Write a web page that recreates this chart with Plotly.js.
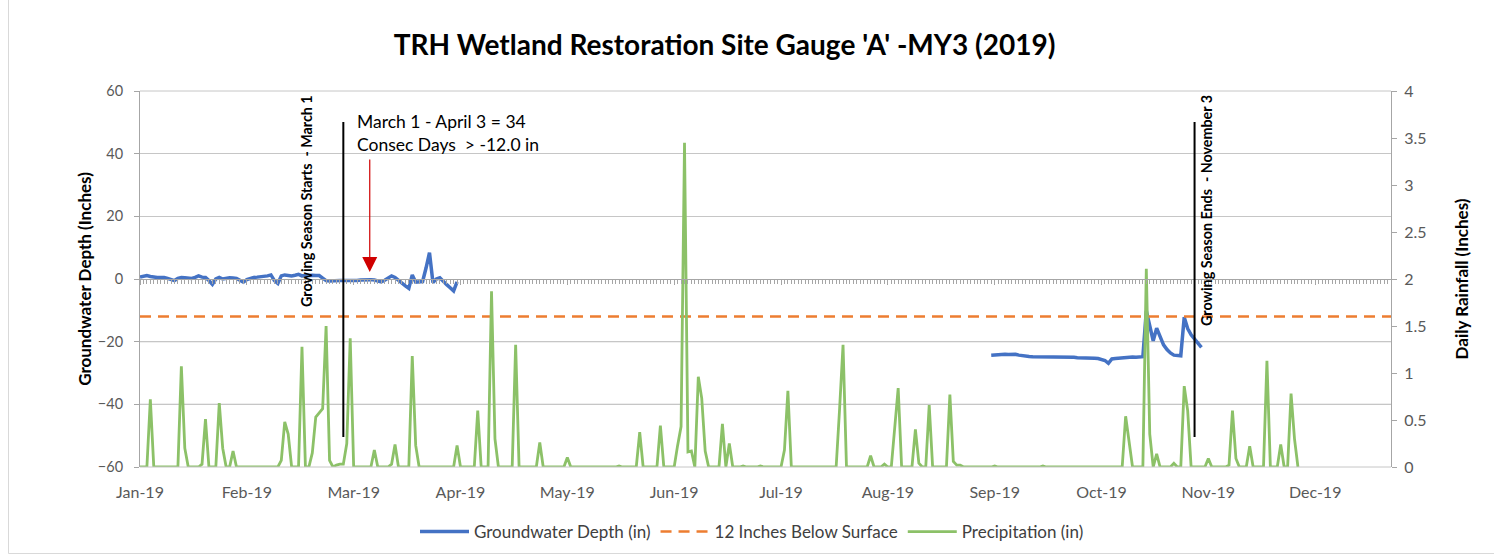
<!DOCTYPE html>
<html><head><meta charset="utf-8">
<script src="https://cdn.plot.ly/plotly-3.0.1.min.js"></script>
<style>html,body{margin:0;padding:0;background:#fff}#chart{width:1494px;height:556px}</style>
</head><body><div id="chart"></div>
<script>
// ---- data ----
const startDate = '2019-01-01';
const axisEndDate = '2019-12-30';
const tickStepDays = 31;
const seriesNames = ['Groundwater Depth (in)', '12 Inches Below Surface', 'Precipitation (in)'];

// daily precipitation (in), starting 2019-01-01
const precipitation = [
  0,0,0,0.72,0,0,0,0,0,0,
  0,0,1.07,0.2,0,0,0,0,0.03,0.51,
  0,0,0,0.68,0.2,0,0,0.17,0,0,
  0,0,0,0,0,0,0,0,0,0,
  0,0.07,0.48,0.35,0,0,0,1.28,0,0,
  0.15,0.53,0.57,0.62,1.5,0.07,0,0.02,0.03,0.03,
  0.25,1.37,0,0,0,0,0,0,0.18,0,
  0,0,0,0.03,0.24,0,0,0,0,1.18,
  0.23,0,0,0,0,0,0,0,0,0,
  0,0,0.23,0,0,0,0,0,0.6,0,
  0,0,1.87,0.3,0,0,0,0,0,1.3,
  0,0,0,0,0,0,0.26,0,0,0,
  0,0,0,0,0.1,0,0,0,0,0,
  0,0,0,0,0,0,0,0,0,0.01,
  0,0,0,0,0,0.37,0,0,0,0,
  0,0.44,0,0,0,0,0.23,0.43,3.45,0.16,
  0.17,0,0.96,0.73,0.17,0,0,0,0,0.46,
  0,0.25,0,0,0,0.01,0,0,0,0,
  0.01,0,0,0,0,0,0,0.18,0.81,0,
  0,0,0,0,0,0,0,0,0,0,
  0,0,0,0.62,1.3,0,0,0,0,0,
  0,0,0.12,0,0,0,0.03,0,0,0.42,
  0.84,0,0,0,0,0.4,0.04,0,0,0.66,
  0,0,0,0,0,0.77,0.06,0.02,0.02,0,
  0,0,0,0,0,0,0,0,0.01,0,
  0,0,0,0,0,0,0,0,0,0,
  0,0,0.01,0,0,0,0,0,0,0,
  0,0,0,0,0,0,0,0,0,0,
  0,0,0,0,0,0,0.54,0.25,0,0,
  0,0,2.11,0.35,0,0.14,0,0,0,0,
  0.04,0,0,0.86,0.6,0,0,0,0,0,
  0.09,0,0,0,0,0,0.02,0.6,0.09,0,
  0,0,0.22,0,0,0,0,1.13,0,0,
  0,0.24,0,0,0.78,0.3,0
];

// groundwater depth (in), spring record starting 2019-01-01
const gwSpringStart = '2019-01-01';
const gwSpring = [
  0.6,1.0,1.1,0.8,0.6,0.5,0.5,0.5,0.2,-0.2,
  -0.5,0.2,0.5,0.4,0.2,0.2,0.5,1.0,0.6,0.5,
  -0.5,-1.7,0.0,0.5,0.0,0.3,0.4,0.3,0.2,-0.4,
  -1.0,-0.2,0.2,0.5,0.6,0.7,0.8,1.0,1.3,-0.5,
  -1.4,1.0,1.3,1.1,1.0,1.2,1.5,1.0,1.1,1.3,
  1.2,1.1,1.1,0.3,-0.5,-0.6,-0.5,-0.5,-0.5,-0.5,
  -0.5,-0.6,-0.6,-0.5,-0.3,-0.2,-0.1,-0.2,-0.3,-0.6,
  -0.9,-0.4,0.2,1.0,0.5,-0.5,-1.4,-2.2,-3.0,1.3,
  -1.0,-0.9,-0.8,3.5,8.4,-1.1,0.0,0.4,-0.9,-1.8,
  -2.8,-3.8,-0.9
];
// groundwater depth (in), fall record starting 2019-09-05
const gwFallStart = '2019-09-05';
const gwFall = [
  -24.3,-24.2,-24.1,-24.1,-24.0,-24.1,-24.0,-24.0,-24.3,-24.5,
  -24.6,-24.7,-24.8,-24.8,-24.8,-24.8,-24.9,-24.8,-24.8,-24.9,
  -24.9,-25.0,-25.0,-24.9,-25.0,-25.1,-25.1,-25.1,-25.2,-25.3,
  -25.3,-25.4,-25.6,-26.0,-26.9,-25.5,-25.4,-25.3,-25.3,-25.0,
  -25.1,-24.9,-25.0,-24.8,-24.8,-10.2,-15.5,-19.7,-15.7,-18.5,
  -21.0,-22.5,-23.6,-24.3,-24.5,-24.5,-12.2,-15.8,-17.8,-19.2,
  -20.6,-21.8
];
const thresholdDepth = -12;

// annotation texts
const seasonStartDate = '2019-03-01';
const seasonEndDate = '2019-11-03';
const seasonStartLabel = 'Growing Season Starts  - March 1';
const seasonEndLabel = 'Growing Season Ends  - November 3';
const calloutLines = ['March 1 - April 3 = 34', 'Consec Days  > -12.0 in'];
const calloutArrowDate = '2019-03-08 16:00';

// ---- helpers ----
const DAY = 86400000;
function datesFrom(start, n) {
  const t0 = Date.parse(start + 'T00:00:00Z');
  const out = [];
  for (let i = 0; i < n; i++) out.push(new Date(t0 + i * DAY).toISOString().slice(0, 10));
  return out;
}
const precipDates = datesFrom(startDate, precipitation.length);
const gwDates = datesFrom(gwSpringStart, gwSpring.length).concat([null], datesFrom(gwFallStart, gwFall.length));
const gwValues = gwSpring.concat([null], gwFall);

const FONT = 'Lato, "Open Sans", "DejaVu Sans", sans-serif';
const GRID = '#C6C6C6';
const GRID_DARK = '#9A9A9A';
const AXIS = '#A6A6A6';
const xRange = [startDate, axisEndDate];

const traces = [
  {x: gwDates, y: gwValues, name: seriesNames[0], type: 'scatter', mode: 'lines',
   connectgaps: false, line: {color: '#4472C4', width: 3.5}, xaxis: 'x', yaxis: 'y', hoverinfo: 'skip'},
  {x: xRange, y: [thresholdDepth, thresholdDepth], name: seriesNames[1], type: 'scatter', mode: 'lines',
   line: {color: '#ED7D31', width: 2.5, dash: '11px,7px'}, xaxis: 'x', yaxis: 'y', hoverinfo: 'skip'},
  {x: precipDates, y: precipitation, name: seriesNames[2], type: 'scatter', mode: 'lines',
   line: {color: '#8CC168', width: 2.8}, xaxis: 'x2', yaxis: 'y2', hoverinfo: 'skip'}
];

const tickFont = {family: FONT, size: 16, color: '#595959'};

// paper-coordinate helpers for the chart-area frame (plot area: x 140..1391, y 91..467 px)
const pxX = px => (px - 140) / 1251;
const pxY = py => (467 - py) / 376;

const layout = {
  width: 1494, height: 556,
  margin: {l: 140, r: 103, t: 91, b: 89},
  paper_bgcolor: '#fff', plot_bgcolor: 'rgba(0,0,0,0)',
  font: {family: FONT},
  title: {text: "TRH Wetland Restoration Site Gauge 'A' -MY3 (2019)", xref: 'container', x: 0.485, xanchor: 'center',
          yref: 'container', y: 1 - 45/556, yanchor: 'middle',
          font: {family: FONT, size: 28, weight: 700, color: '#000'}},
  showlegend: true,
  legend: {orientation: 'h', xref: 'container', x: 752/1494, xanchor: 'center',
           yref: 'container', y: 1 - 532/556, yanchor: 'middle', itemwidth: 49,
           font: {family: FONT, size: 17, color: '#404040'}, bgcolor: 'rgba(0,0,0,0)'},
  xaxis: {type: 'date', range: xRange, tick0: startDate, dtick: tickStepDays * DAY, tickformat: '%b-%y',
          ticks: '', showline: false, showgrid: false, zeroline: false, tickfont: tickFont,
          ticklabelstandoff: 14, automargin: false},
  xaxis2: {type: 'date', range: xRange, overlaying: 'x', anchor: 'free', position: 0.5,
           tick0: startDate, dtick: tickStepDays * DAY, showticklabels: false, automargin: false,
           showline: true, linecolor: AXIS, linewidth: 1, showgrid: false, zeroline: false,
           ticks: 'outside', ticklen: 5, tickcolor: AXIS, tickwidth: 1,
           minor: {dtick: DAY, ticks: 'outside', ticklen: 4, tickcolor: AXIS, tickwidth: 1, showgrid: false}},
  xaxis3: {type: 'date', range: xRange, overlaying: 'x', anchor: 'free', position: 0.5,
           tick0: startDate, dtick: tickStepDays * DAY, showticklabels: false, automargin: false,
           showline: false, showgrid: false, zeroline: false,
           ticks: 'inside', ticklen: 5, tickcolor: AXIS, tickwidth: 1},
  yaxis: {range: [-60, 60], dtick: 20, showgrid: true, gridcolor: GRID, gridwidth: 1, zeroline: false,
          showline: true, linecolor: AXIS, ticks: 'outside', ticklen: 5, tickcolor: AXIS,
          tickfont: {family: FONT, size: 14.5, color: '#595959'}, ticklabelstandoff: 8, automargin: false,
          title: {text: 'Groundwater Depth (Inches)', standoff: 1, font: {family: FONT, size: 17, weight: 700, color: '#000'}}},
  yaxis2: {range: [0, 4], dtick: 0.5, overlaying: 'y', side: 'right', anchor: 'x2', showgrid: false, zeroline: false,
           showline: true, linecolor: AXIS, ticks: 'outside', ticklen: 5, tickcolor: AXIS,
           tickfont: tickFont, ticklabelstandoff: 4, automargin: false,
           title: {text: 'Daily Rainfall (Inches)', standoff: 30, font: {family: FONT, size: 17, weight: 700, color: '#000'}}},
  shapes: [
    {type: 'line', xref: 'paper', yref: 'y', x0: 0, x1: 1, y0: -20, y1: -20, layer: 'below', line: {color: GRID_DARK, width: 1}},
    {type: 'line', xref: 'paper', yref: 'y', x0: 0, x1: 1, y0: -40, y1: -40, layer: 'below', line: {color: GRID_DARK, width: 1}},
    {type: 'line', xref: 'x', yref: 'y', x0: seasonStartDate, x1: seasonStartDate, y0: -50.4, y1: 50.1,
     line: {color: '#000', width: 2}},
    {type: 'line', xref: 'x', yref: 'y', x0: seasonEndDate, x1: seasonEndDate, y0: -50.4, y1: 50.1,
     line: {color: '#000', width: 2}},
    {type: 'line', xref: 'paper', yref: 'paper', x0: 0, x1: 1, y0: 1, y1: 1, line: {color: GRID, width: 1}},
    {type: 'line', xref: 'paper', yref: 'paper', x0: 0, x1: 1, y0: 0, y1: 0, line: {color: GRID, width: 1}},
    // chart-area frame (left and bottom edges visible in the reference)
    {type: 'line', xref: 'paper', yref: 'paper', x0: pxX(8.5), x1: pxX(8.5), y0: pxY(0), y1: pxY(553.5), line: {color: '#D9D9D9', width: 1}},
    {type: 'line', xref: 'paper', yref: 'paper', x0: pxX(8.5), x1: pxX(1494), y0: pxY(553.5), y1: pxY(553.5), line: {color: '#D9D9D9', width: 1}}
  ],
  annotations: [
    {xref: 'paper', yref: 'paper', x: (306 - 140) / 1251, y: (467 - 201) / 376, text: '<b>' + seasonStartLabel + '</b>',
     textangle: -90, showarrow: false, xanchor: 'center', yanchor: 'middle',
     font: {family: FONT, size: 14.3, color: '#000'}},
    {xref: 'paper', yref: 'paper', x: (1206 - 140) / 1251, y: (467 - 211) / 376, text: '<b>' + seasonEndLabel + '</b>',
     textangle: -90, showarrow: false, xanchor: 'center', yanchor: 'middle',
     font: {family: FONT, size: 14.3, color: '#000'}},
    {xref: 'paper', yref: 'paper', x: (355 - 140) / 1251, y: (467 - 132.5) / 376, text: calloutLines.join('<br>'),
     showarrow: false, xanchor: 'left', yanchor: 'middle', align: 'left',
     font: {family: FONT, size: 17.5, color: '#000'}},
    {xref: 'x', yref: 'y', x: calloutArrowDate, y: 2.2, axref: 'x', ayref: 'y', ax: calloutArrowDate, ay: 38.6,
     text: '', showarrow: true, arrowhead: 2, arrowsize: 2.5, arrowwidth: 1.2, arrowcolor: '#D00000'}
  ]
};

Plotly.newPlot('chart', traces, layout, {staticPlot: true, displayModeBar: false});
</script>
</body></html>
